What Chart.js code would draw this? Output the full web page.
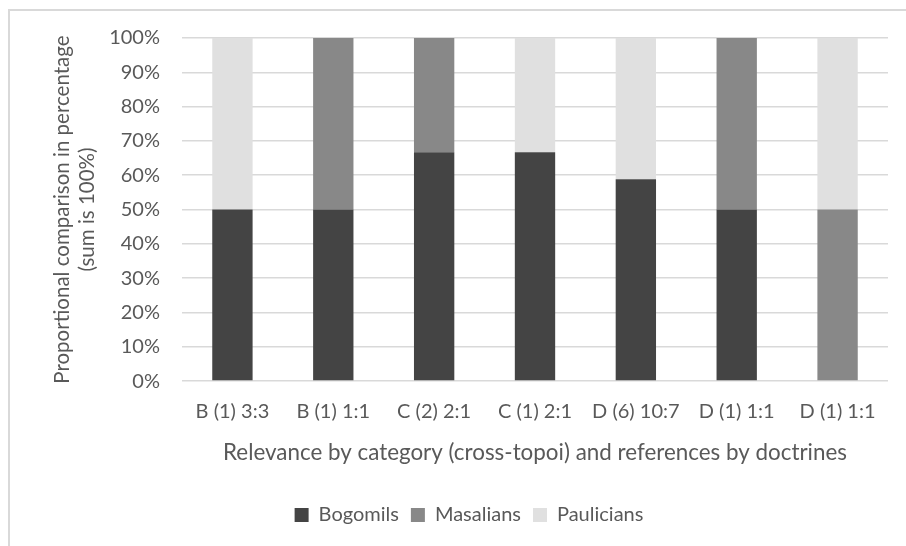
<!DOCTYPE html>
<html>
<head>
<meta charset="utf-8">
<script src="https://cdn.jsdelivr.net/npm/chart.js@4"></script>
<style>
  body { margin: 0; background: #fff; }
  #wrap { width: 906px; height: 546px; }
</style>
</head>
<body>
<div id="wrap"><canvas id="grafico" width="906" height="546"></canvas></div>
<script>
// categorias e valores (em %)
const categorias = ['B (1) 3:3', 'B (1) 1:1', 'C (2) 2:1', 'C (1) 2:1', 'D (6) 10:7', 'D (1) 1:1', 'D (1) 1:1'];
const bogomils   = [50, 50, 66.7, 66.7, 58.8, 50, 0];
const masalians  = [0, 50, 33.3, 0, 0, 50, 50];
const paulicians = [50, 0, 0, 33.3, 41.2, 0, 50];

const corTexto = '#595959';
const fonte = "Lato, 'Open Sans', sans-serif";

// moldura cinza clara (topo e esquerda)
const moldura = {
    id: 'moldura',
    beforeDraw(chart) {
        const ctx = chart.ctx;
        ctx.save();
        ctx.strokeStyle = '#d9d9d9';
        ctx.lineWidth = 2;
        ctx.strokeRect(9, 10, 1200, 1200);
        ctx.restore();
    }
};

const ctx = document.getElementById('grafico').getContext('2d');
new Chart(ctx, {
    type: 'bar',
    data: {
        labels: categorias,
        datasets: [
            { label: 'Bogomils', data: bogomils, backgroundColor: '#444444' },
            { label: 'Masalians', data: masalians, backgroundColor: '#888888' },
            { label: 'Paulicians', data: paulicians, backgroundColor: '#e0e0e0' }
        ]
    },
    options: {
        responsive: false,
        animation: false,
        layout: { padding: { left: 50, right: 18, top: 38, bottom: 11 } },
        datasets: { bar: { categoryPercentage: 1.0, barPercentage: 0.4 } },
        plugins: {
            legend: {
                position: 'bottom',
                labels: {
                    color: corTexto,
                    font: { family: fonte, size: 20 },
                    boxWidth: 14,
                    boxHeight: 14,
                    padding: 12
                }
            },
            tooltip: { enabled: false }
        },
        scales: {
            x: {
                stacked: true,
                grid: { display: false, drawTicks: false },
                border: { display: false },
                ticks: {
                    color: corTexto,
                    font: { family: fonte, size: 20 },
                    padding: 18,
                    maxRotation: 0,
                    minRotation: 0,
                    autoSkip: false
                },
                title: {
                    display: true,
                    text: 'Relevance by category (cross-topoi) and references by doctrines',
                    color: corTexto,
                    font: { family: fonte, size: 22.4 },
                    padding: { top: -2, bottom: 27 }
                }
            },
            y: {
                stacked: true,
                min: 0,
                max: 100,
                afterFit(scale) { scale.width = 132; },
                grid: { color: '#d9d9d9', lineWidth: 1.5, drawTicks: false },
                border: { display: false },
                ticks: {
                    stepSize: 10,
                    color: corTexto,
                    font: { family: fonte, size: 20 },
                    padding: 22,
                    callback: v => v + '%'
                },
                title: {
                    display: true,
                    text: ['Proportional comparison in percentage', '(sum is 100%)'],
                    color: corTexto,
                    font: { family: fonte, size: 20.5 },
                    padding: { top: 0, bottom: 10 }
                }
            }
        }
    },
    plugins: [moldura]
});
</script>
</body>
</html>
